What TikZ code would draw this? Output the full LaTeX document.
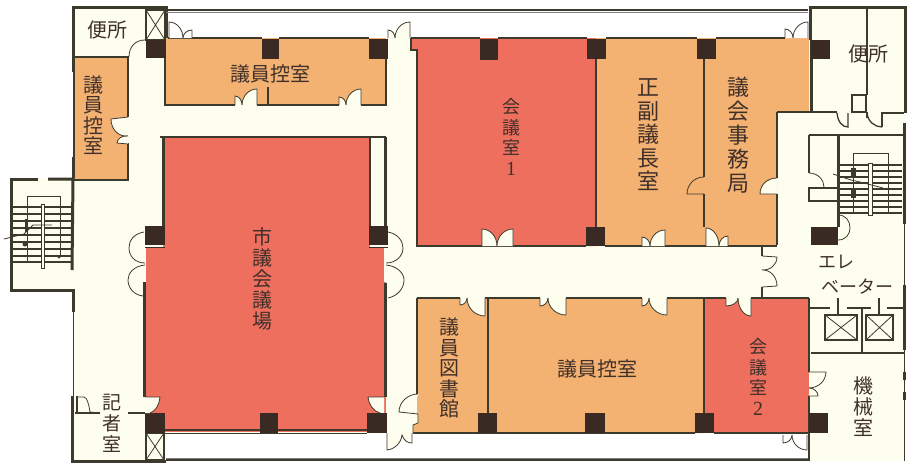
\documentclass[tikz,border=0pt]{standalone}
\usepackage{fontspec}
\setmainfont{Liberation Serif}
\newfontfamily\jp{Noto Sans CJK JP}
\usetikzlibrary{calc}
\definecolor{creamc}{HTML}{FEFEEE}
\definecolor{orangec}{HTML}{F3B172}
\definecolor{redc}{HTML}{EF6F5F}
\definecolor{wallc}{HTML}{3C3A2C}
\definecolor{colc}{HTML}{3A2A24}
\definecolor{inkc}{HTML}{40302A}
\tikzset{
  wall/.style={draw=wallc,line width=1.3pt},
  thick wall/.style={draw=wallc,line width=3pt},
  thin wall/.style={draw=wallc,line width=0.8pt},
  tread/.style={draw=wallc,line width=1.1pt},
  pillar/.style={fill=colc},
  lbl/.style 2 args={inner sep=0,text=inkc,align=center,font=\jp\fontsize{#1}{#2}\selectfont}
}
\newcommand\sdoor[4][creamc]{%
  \coordinate (H) at (#2); \coordinate (M) at (#3); \coordinate (E) at ($(H)+(#4)$);
  \fill[#1] (H) -- (E) .. controls ($(E)+.55*(M)-.55*(H)$) and ($(M)+.55*(#4)$) .. (M) -- cycle;
  \draw[thin wall] (H) -- (E) .. controls ($(E)+.55*(M)-.55*(H)$) and ($(M)+.55*(#4)$) .. (M);
}
\newcommand\pil[4]{\fill[pillar] (#1,#2) rectangle (#3,#4);}
\begin{document}
\begin{tikzpicture}[x=1pt,y=-1pt]
\useasboundingbox (0,0) rectangle (915,463);
\fill[white] (0,0) rectangle (915,463);
% floor
\fill[creamc] (73,8) -- (166,8) -- (166,38) -- (810,38) -- (810,8) -- (904,8) -- (904,461) -- (810,461) -- (810,433) -- (166,433) -- (166,461) -- (73,461) -- (73,290) -- (11,290) -- (11,178) -- (73,178) -- cycle;
% rooms
\fill[orangec] (74,58) rectangle (128,180);
\fill[orangec] (165,38) rectangle (386,105);
\fill[redc] (145,248) rectangle (386,432);
\fill[redc] (163,138) rectangle (370,248);
\fill[redc] (411,38) -- (596,38) -- (596,246) -- (417,246) -- (417,50) -- (411,50) -- cycle;
\fill[orangec] (596,38) rectangle (704,246);
\fill[orangec] (704,38) -- (809,38) -- (809,112) -- (777,112) -- (777,245) -- (704,245) -- cycle;
\fill[orangec] (417,298) -- (704,298) -- (704,433) -- (413,433) -- (413,414) -- (417,414) -- cycle;
\fill[redc] (704,298) rectangle (809,433);
% outer walls and rules
\draw[thick wall] (73,72) |- (166,7) -- (166,38);
\draw[wall] (73,57) -- (129,57);
\draw[wall] (166,10) -- (808,10); \draw[thin wall,gray] (166,12) -- (808,12);
\draw[wall] (166,460) -- (810,460); \draw[thin wall,gray] (166,458) -- (810,458);
\draw[wall] (74,72) -- (74,157);
\draw[thick wall] (73,157) -- (73,178);
\draw[thick wall] (38,179) -| (11,290) -- (73,290) -- (73,312);
\draw[thick wall] (48,179) -- (73,179) -- (72,270);
\draw[thin wall] (73,312) -- (73,396);
\draw[thick wall] (72,396) -- (72,461) -- (166,461);
% left rooms
\draw[wall] (74,180) -- (128,180) -- (128,143);
\draw[wall] (128,117) -- (128,58);
\draw[wall] (75,413) -- (100,413);
\draw[wall] (128,413) -- (145,413);
% top row room
\draw[wall] (165,58) -- (165,105) -- (235,105);
\draw[wall] (257,105) -- (339,105);
\draw[wall] (361,105) -- (386,105) -- (386,58);
\draw[wall] (168,38) -- (262,38); \draw[wall] (279,38) -- (369,38);
\draw[wall] (268,87) -- (268,105);
% hall walls
\draw[wall] (160,137) -- (386,137);
\draw[thick wall] (163,137) -- (163,226);
\draw[wall] (370,137) -- (370,226);
\draw[thick wall] (385,137) -- (385,226);
\draw[thick wall] (144,282) -- (144,397);
\draw[thick wall] (385,283) -- (385,397);
\draw[wall] (165,430) -- (367,430);
\draw[thin wall] (165,433) -- (367,433);
% meeting room 1, offices
\draw[wall] (411,38) -- (480,38); \draw[wall] (498,38) -- (587,38); \draw[wall] (606,38) -- (697,38); \draw[wall] (716,38) -- (785,38);
\draw[wall] (411,38) -- (411,50) -- (417,50) -- (417,246) -- (586,246);
\draw[wall] (596,59) -- (596,227);
\draw[wall] (605,246) -- (777,246);
\draw[wall] (704,59) -- (704,177); \draw[wall] (704,194) -- (704,227);
\draw[wall] (777,112) -- (777,178); \draw[wall] (777,194) -- (777,245);
\draw[wall] (777,112) -- (837,112);
% lower rooms
\draw[wall] (417,298) -- (417,395);
\draw[wall] (417,298) -- (460,298); \draw[wall] (485,298) -- (540,298); \draw[wall] (566,298) -- (642,298); \draw[wall] (667,298) -- (726,298); \draw[wall] (751,298) -- (809,298);
\draw[wall] (488,298) -- (488,413);
\draw[wall] (704,298) -- (704,413);
\draw[wall] (413,433) -- (695,433); \draw[wall] (714,433) -- (809,433);
\draw[wall] (809,298) -- (809,372); \draw[wall] (809,396) -- (809,461);
% right block
\draw[thick wall] (810,40) |- (905,7) -- (905,113);
\draw[thick wall] (811,40) -- (811,112);
\draw[wall] (867,7) -- (867,95); \draw[wall] (867,112) -- (867,118);
\draw[wall] (852,95) rectangle (866,112);
\draw[wall] (882,127) -- (882,113) -- (904,113);
\draw[thick wall] (904,123) -- (904,224);
\draw[thin wall] (904,224) -- (904,285);
\draw[thick wall] (904,285) -- (904,350);
\draw[thin wall] (904,350) -- (904,461);
\draw[thick wall,dash pattern=on 8pt off 12pt] (904,372) -- (904,410);
\draw[wall] (809,135) -- (904,135);
\draw[thick wall] (838,135) -- (838,227);
\draw[wall] (809,135) -- (809,173);
\draw[wall] (809,188) rectangle (838,201);
\draw[thin wall] (809,173) .. controls (818,173) and (824,180) .. (824,187);
% elevators
\draw[wall] (809,308) -- (830,308); \draw[wall] (847,308) -- (871,308); \draw[wall] (887,308) -- (904,308);
\draw[wall] (838,298) -- (838,315); \draw[wall] (879,298) -- (879,315);
\draw[wall] (811,353) -- (904,353);
\draw[wall] (862,308) -- (862,353);
\draw[wall] (825,315) rectangle (857,340);
\draw[thin wall] (825,315) -- (857,340) (825,340) -- (857,315);
\draw[wall] (866,315) rectangle (893,340);
\draw[thin wall] (866,315) -- (893,340) (866,340) -- (893,315);
% lift shafts in corners
\draw[wall] (146,10) rectangle (165,40);
\draw[thin wall] (146,10) -- (165,40) (146,40) -- (165,10);
\draw[wall] (146,433) rectangle (164,460);
\draw[thin wall] (146,433) -- (164,460) (146,460) -- (164,433);
% left stairs
\foreach \yy in {207,214,221,228,235,242,249,256,262} \draw[tread] (13,\yy) -- (72,\yy);
\draw[thin wall] (27,262) -- (27,196) -- (60,196) -- (60,257);
\draw[thin wall,fill=creamc] (41,204) rectangle (44,268);
\draw[thin wall] (4,239) -- (24,234) -- (33,225) -- (52,225);
\fill[wallc] (25,219) rectangle (28,232); \fill[wallc] (25,244) circle (2.5);
\fill[wallc] (59,257) circle (1.5);
% right stairs
\foreach \yy in {165,171,177,183,189,195,201,207,213} \draw[tread] (840,\yy) -- (902,\yy);
\draw[thin wall] (853,213) -- (853,153) -- (888,153) -- (888,213);
\draw[thin wall,fill=creamc] (868,163) rectangle (872,215);
\draw[thin wall] (833,174) -- (851,180) -- (860,182) -- (883,188);
\fill[wallc] (851,168) rectangle (856,178); \fill[wallc] (851,188) rectangle (856,198);
\draw[thin wall] (838,215) .. controls (846,215) and (850,221) .. (850,228) .. controls (850,234) and (846,240) .. (838,240);
% hall columns and strips
\pil{145}{226}{165}{245}\pil{369}{226}{388}{245}
\fill[creamc] (147,245) rectangle (163,247); \fill[creamc] (371,245) rectangle (387,247);
\fill[pillar] (145,247) rectangle (165,248); \fill[pillar] (369,247) rectangle (388,248);
\pil{145}{413}{165}{433}\pil{260}{413}{278}{433}\pil{367}{413}{387}{433}
\pil{146}{40}{166}{58}\pil{262}{39}{279}{59}\pil{369}{39}{388}{59}
\pil{480}{39}{498}{60}\pil{587}{39}{606}{59}\pil{586}{227}{605}{246}\pil{697}{39}{716}{59}
\pil{811}{40}{830}{59}\pil{811}{227}{838}{245}
\pil{478}{413}{497}{433}\pil{585}{413}{605}{433}\pil{695}{413}{714}{433}\pil{809}{413}{828}{433}
% doors
\draw[thin wall] (129,57) .. controls (129,47) and (135,40) .. (145,40);
\sdoor[white]{169,38}{183,38}{0,-16}\sdoor[white]{192,38}{183,38}{0,-8}
\sdoor{410,38}{395,38}{0,-16}\sdoor{388,38}{395,38}{0,-8}
\sdoor[white]{808,38}{793,38}{0,-16}\sdoor[white]{785,38}{793,38}{0,-9}
\sdoor{128,117}{128,136}{-17,2}\sdoor{128,144}{128,136}{-11,-1}
\sdoor{257,105}{242,105}{0,-16}\sdoor{235,105}{242,105}{0,-9}
\sdoor{361,105}{346,105}{0,-16}\sdoor{339,105}{346,105}{0,-8}
\sdoor{482,246}{497,246}{0,-17}\sdoor{513,246}{497,246}{0,-17}
\sdoor{665,246}{650,246}{0,-16}\sdoor{642,246}{650,246}{0,-9}
\sdoor{706,246}{719,246}{0,-18}\sdoor{728,246}{719,246}{0,-10}
\sdoor{485,298}{467,298}{0,18}\sdoor{460,298}{467,298}{0,7}
\sdoor{566,298}{548,298}{0,17}\sdoor{540,298}{548,298}{0,8}
\sdoor{667,298}{649,298}{0,17}\sdoor{642,298}{649,298}{0,8}
\sdoor{751,298}{738,298}{0,18}\sdoor{726,298}{738,298}{0,8}
\sdoor{809,372}{809,388}{17,0}\sdoor{809,396}{809,388}{9,0}
\sdoor[white]{807,435}{792,435}{0,15}\sdoor[white]{783,435}{792,435}{0,8}
% corridor east door
\draw[wall] (762,246) -- (762,256); \draw[wall] (762,287) -- (762,298);
\sdoor{762,256}{762,270}{15,1}\sdoor{762,287}{762,270}{15,-1}
% office side doors
\draw[thin wall] (704,177) .. controls (694,177) and (687,185) .. (687,194) -- (704,194);
\fill[creamc] (777,178) .. controls (767,178) and (760,185) .. (760,194) -- (777,194) -- cycle;
\draw[thin wall] (777,178) .. controls (767,178) and (760,185) .. (760,194) -- (777,194);
% WC doors right
\draw[wall] (837,113) .. controls (838,122) and (842,127) .. (848,127) -- (848,113);
\draw[wall] (867,113) .. controls (868,122) and (875,127) .. (882,127);
% hall double doors
\fill[creamc] (143,248) rectangle (146,282); \fill[creamc] (384,248) rectangle (387,282);
\draw[thin wall] (144,232) .. controls (133,234) and (129,241) .. (129,248) .. controls (129,256) and (135,263) .. (145,263);
\draw[thin wall] (145,265) .. controls (134,266) and (128,273) .. (128,280) .. controls (128,288) and (134,295) .. (143,296);
\draw[thin wall] (388,232) .. controls (398,234) and (403,241) .. (403,248) .. controls (403,256) and (396,263) .. (386,263);
\draw[thin wall] (386,265) .. controls (397,266) and (404,273) .. (404,280) .. controls (404,288) and (398,296) .. (388,298);
% hall corner doors
\fill[creamc] (145,397) -- (160,397) .. controls (159,405) and (156,411) .. (150,413) -- (145,413) -- cycle;
\draw[thin wall] (145,397) -- (160,397) .. controls (159,405) and (156,411) .. (150,413);
\fill[creamc] (384,397) -- (368,397) .. controls (369,405) and (373,411) .. (380,413) -- (384,413) -- cycle;
\draw[thin wall] (384,397) -- (368,397) .. controls (369,405) and (373,411) .. (380,413);
% library door and exit
\fill[creamc] (419,394) .. controls (408,394) and (399,402) .. (399,412) -- (418,414) -- (418,423) -- (413,425) -- (413,434) -- (387,434) -- (387,397) -- (417,397) -- cycle;
\draw[thin wall] (418,394) .. controls (408,394) and (399,402) .. (399,412) -- (418,414) -- (418,423) -- (413,425) -- (413,433);
\pil{367}{413}{387}{433}
\fill[creamc] (387,433) -- (387,450) .. controls (395,449) and (401,443) .. (402,435) .. controls (404,441) and (408,443) .. (412,443) -- (412,433) -- cycle;
\draw[thin wall] (387,433) -- (387,450) .. controls (395,449) and (401,443) .. (402,435) .. controls (404,441) and (408,443) .. (412,443) -- (412,433);
% press room door
\draw[wall] (77,396) -- (77,412);
\draw[thin wall] (77,397) -- (84,397) .. controls (87,397) and (89,405) .. (90,412) -- (100,413);
% labels
\node[lbl={20}{21}] (wcl) at (107,30) {便所};
\node[lbl={20}{20.5}] (roomA) at (93,115) {議\\員\\控\\室};
\node[lbl={20}{21}] (roomB) at (270,74) {議員控室};
\node[lbl={18}{20.5}] (mtgA) at (511,137) {会\\議\\室\\{\rmfamily\fontsize{20}{20.5}\selectfont 1}};
\node[lbl={22}{23.5}] (chair) at (648,135) {正\\副\\議\\長\\室};
\node[lbl={22}{24}] (office) at (738,135) {議\\会\\事\\務\\局};
\node[lbl={20}{21}] (wcr) at (868,54) {便所};
\node[lbl={20}{21}] (hall) at (262,279) {市\\議\\会\\議\\場};
\node[lbl={20}{20.5}] (lib) at (449,368) {議\\員\\図\\書\\館};
\node[lbl={20}{21}] (roomC) at (597,369) {議員控室};
\node[lbl={18}{20.5}] (mtgB) at (758,377) {会\\議\\室\\{\rmfamily\fontsize{20}{20.5}\selectfont 2}};
\node[lbl={19}{21}] (press) at (112,423) {記\\者\\室};
\node[lbl={20}{21}] (mach) at (863,407) {機\\械\\室};
\node[lbl={18}{20}] (elA) at (836,262) {エレ};
\node[lbl={18}{20}] (elB) at (857,287) {ベーター};
\end{tikzpicture}
\end{document}
